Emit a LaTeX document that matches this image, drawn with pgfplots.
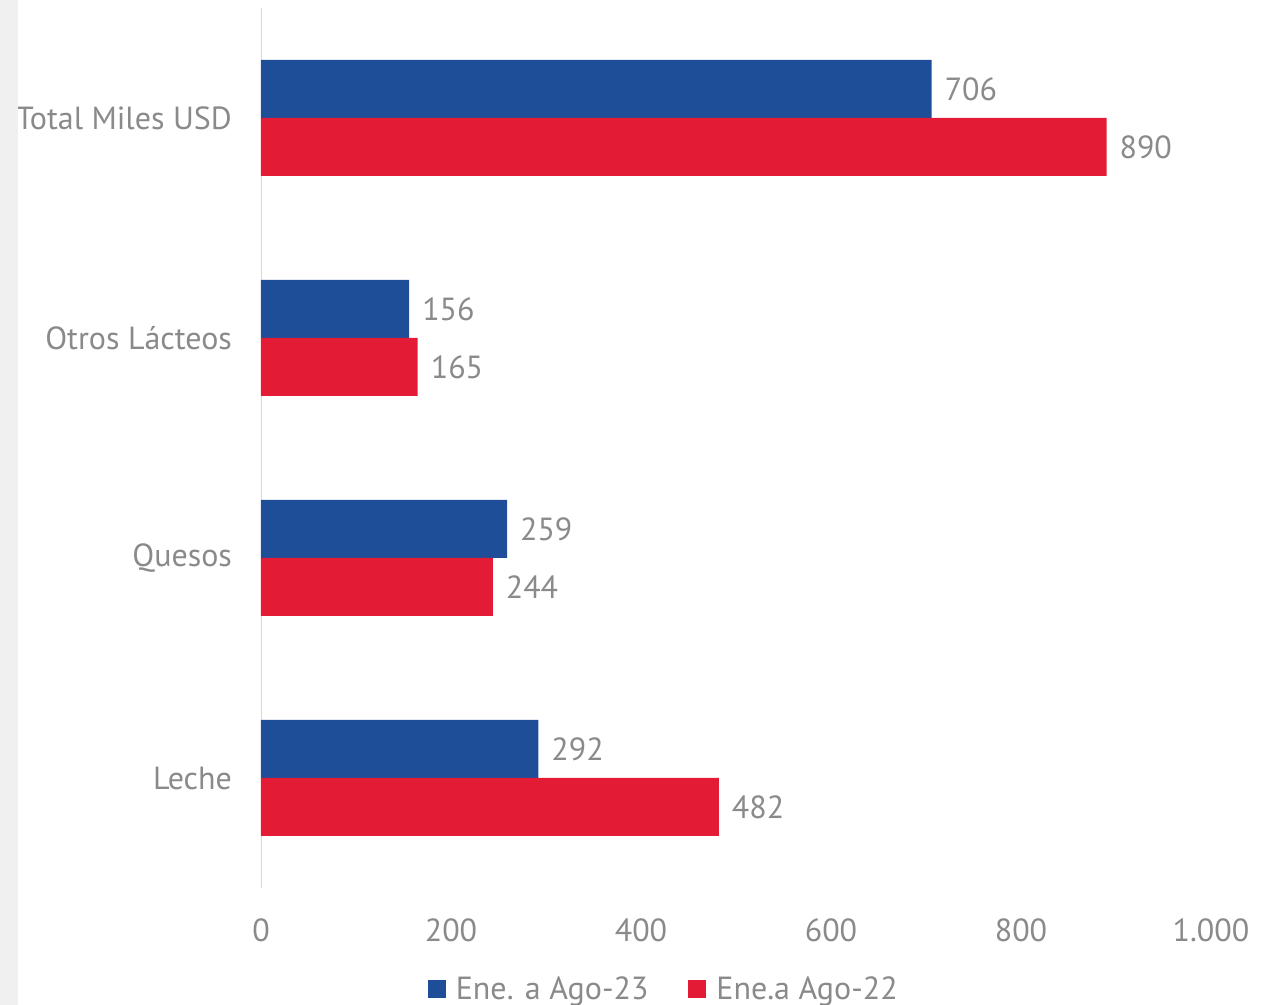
\documentclass[border=0pt]{standalone}
\usepackage{pgfplots}
\pgfplotsset{compat=1.18}
\usepackage{fontspec}
\setmainfont{PT Sans}
\definecolor{azul}{HTML}{1F4E99}
\definecolor{rojo}{HTML}{E31B34}
\definecolor{txt}{HTML}{8A8A8A}
\begin{document}
\begin{tikzpicture}
\begin{axis}[
  at={(0,0)}, anchor=south west,
  scale only axis, width=475pt, height=440pt,
  xbar, bar width=29pt,
  xmin=0, xmax=1000, ymin=-0.5, ymax=3.5,
  xtick={0,200,...,1000},
  ytick={0,1,2,3},
  yticklabels={Leche,Quesos,Otros Lácteos,Total Miles USD},
  axis lines*=left,
  x axis line style={draw=none},
  y axis line style={draw=black!15, -},
  major tick length=0,
  tick label style={font=\fontsize{16}{19}\selectfont, text=txt},
  xticklabel style={yshift=-12pt},
  yticklabel style={xshift=-11pt},
  /pgf/number format/1000 sep={.},
  /pgf/number format/assume math mode=true,
  nodes near coords,
  every node near coord/.append style={font=\fontsize{16}{19}\selectfont, text=txt, xshift=3pt},
  legend style={draw=none, at={(0.425,0)}, anchor=north, yshift=-40pt,
    legend columns=2, font=\fontsize{16}{19}\selectfont, text=txt,
    /tikz/every odd column/.append style={column sep=3pt},
    /tikz/every even column/.append style={column sep=18pt}},
  legend image code/.code={\fill[#1] (0pt,-4.5pt) rectangle (9pt,4.5pt);},
]
\addplot[fill=azul, draw=none, bar shift=14.5pt] coordinates {(292,0) (259,1) (156,2) (706,3)};
\addplot[fill=rojo, draw=none, bar shift=-14.5pt] coordinates {(482,0) (244,1) (165,2) (890,3)};
\legend{Ene. a Ago-23, Ene.a Ago-22}
\end{axis}
\fill[black!6] (-130.5pt,-58.5pt) rectangle (-121.5pt,444pt);
\pgfresetboundingbox
\path[use as bounding box] (-130.5pt,-58.5pt) rectangle (501pt,444pt);
\end{tikzpicture}
\end{document}
